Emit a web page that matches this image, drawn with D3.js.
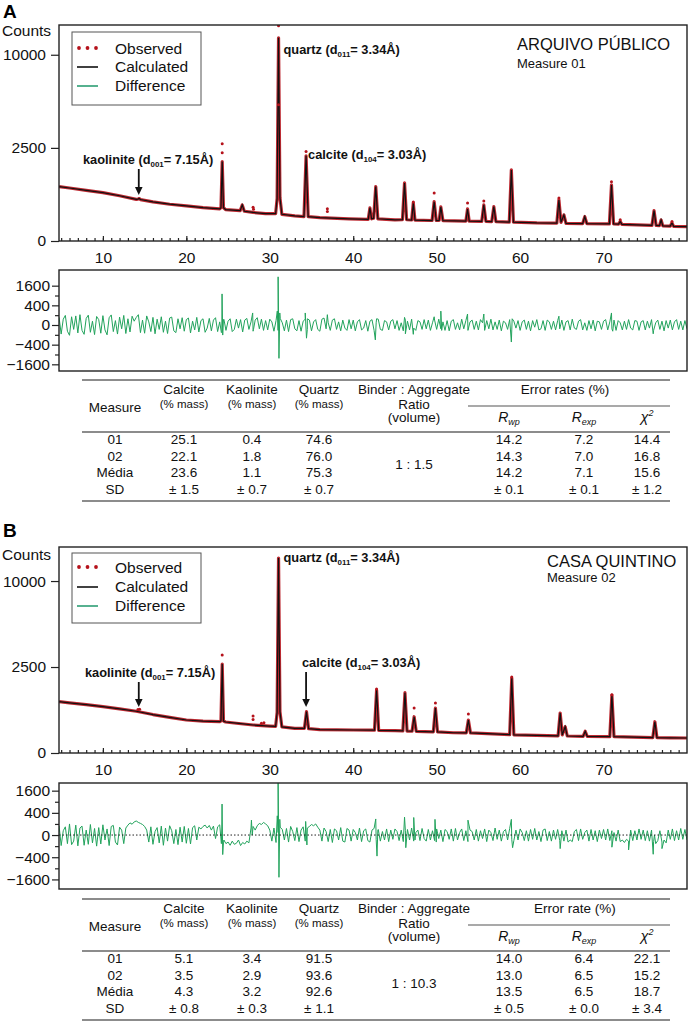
<!DOCTYPE html>
<html>
<head>
<meta charset="utf-8">
<script src="https://cdn.jsdelivr.net/npm/d3@7"></script>
<style>
  body { margin: 0; background: #fff; }
  svg { font-family: "Liberation Sans", Arial, sans-serif; }
</style>
</head>
<body>
<svg id="chart" width="692" height="1029"></svg>
<script>
// ---------------- data ----------------
// 2-theta range and axis ticks
const twoThetaDomain = [4.74, 80];
const xTicks = [10, 20, 30, 40, 50, 60, 70];
const countTicks = [0, 2500, 10000];
const diffTicks = [-1600, -400, 0, 400, 1600];
const diffMinorTicks = [-900, -100, 100, 900];
const legendLabels = ["Observed", "Calculated", "Difference"];

// peak annotations: [before sub, sub, after sub] and the peak they point at
const noteTexts = [["quartz (d", "011", "= 3.34Å)"], ["kaolinite (d", "001", "= 7.15Å)"], ["calcite (d", "104", "= 3.03Å)"]];
const notePeaks = [31.05, 14.3, 34.35];

const siteA = "ARQUIVO PÚBLICO", measureA = "Measure 01";
const siteB = "CASA QUINTINO", measureB = "Measure 02";

// calculated profile, [2theta, counts]
const calcA = [
  [4.75, 850], [6, 810], [8, 740], [10, 674], [12, 590], [14, 500], [14.2, 505], [14.35, 520], [14.5, 495], [16, 440],
  [18, 390], [20, 354], [22, 320], [24.0, 296], [24.15, 320], [24.3, 1817], [24.45, 318], [24.7, 285], [26.45, 265],
  [26.7, 375], [26.95, 255], [28, 235], [29.5, 215], [30.7, 215], [30.88, 520], [31.05, 11900], [31.22, 540],
  [31.45, 205], [33, 182], [34.1, 172], [34.35, 2088], [34.6, 172], [36, 158], [39.5, 142], [41.8, 136], [42.0, 315],
  [42.2, 142], [42.45, 150], [42.7, 852], [42.95, 142], [45, 128], [45.9, 130], [46.15, 972], [46.4, 130], [47.0, 127],
  [47.2, 417], [47.4, 126], [49.45, 121], [49.7, 445], [49.95, 121], [50.3, 122], [50.5, 334], [50.75, 120],
  [53.5, 114], [53.7, 296], [53.9, 113], [55.4, 110], [55.65, 375], [55.9, 111], [56.6, 109], [56.85, 340],
  [57.1, 108], [58.7, 103], [58.95, 1457], [59.2, 103], [62, 94], [64.4, 92], [64.65, 486], [64.9, 100],
  [65.25, 195], [65.5, 90], [67.5, 88], [67.75, 171], [68.0, 87], [70.7, 84], [70.95, 906], [71.2, 84], [71.8, 82],
  [72.0, 110], [72.2, 80], [75.8, 70], [76.05, 265], [76.3, 70], [76.7, 68], [76.9, 127], [77.1, 66], [78.0, 64],
  [78.2, 95], [78.4, 62], [80, 59]
];
const calcB = [
  [4.75, 890], [6, 850], [8, 790], [10, 725], [12, 660], [14, 590], [16, 500], [18, 430], [20, 368], [22, 345],
  [24.0, 331], [24.15, 350], [24.3, 2677], [24.45, 345], [24.7, 325], [26, 300], [28, 265], [30, 246], [30.7, 240],
  [30.88, 560], [31.05, 12860], [31.22, 580], [31.45, 230], [33, 205], [34.15, 205], [34.4, 577], [34.65, 200],
  [36, 186], [40, 179], [42.55, 176], [42.8, 1341], [43.05, 173], [45, 168], [45.95, 165], [46.2, 1229], [46.45, 163],
  [47.05, 160], [47.3, 445], [47.55, 158], [49.6, 151], [49.85, 684], [50.1, 150], [52, 139], [53.55, 138],
  [53.8, 368], [54.05, 137], [58.75, 113], [59.0, 1901], [59.25, 112], [62, 105], [64.55, 100], [64.8, 541],
  [65.05, 110], [65.4, 234], [65.65, 98], [67.55, 93], [67.8, 160], [68.05, 92], [70.75, 90], [71.0, 1137],
  [71.25, 90], [75.9, 80], [76.15, 331], [76.4, 80], [78, 78], [80, 76]
];

// observed points standing off the calculated line
const obsDotsA = [
  [24.3, 2720], [24.3, 2240], [31.05, 13350], [31.05, 5350], [34.35, 2305], [28.0, 330], [28.05, 290], [36.9, 300],
  [36.9, 250], [47.2, 440], [49.7, 666], [53.7, 417], [55.65, 462], [64.65, 534], [70.95, 1016], [72.0, 130], [78.2, 110]
];
const obsDotsB = [
  [24.3, 3246], [28.0, 463], [28.0, 380], [14.2, 640], [14.4, 650], [42.8, 1380], [47.3, 684], [49.85, 845],
  [53.8, 514], [59.0, 1950], [29.0, 300], [29.3, 310], [71.0, 1150]
];

// difference curve: values every 0.25 deg from 4.75 (one row = 5 deg)
const residStart = 4.75, residStep = 0.25;
const noiseA = [
  60, -85, 35, 95, -40, -110, 70, -20, 85, -65, 110, -30, -90, 45, 100, -55, 15, -95, 75, 30,
  -70, 90, -25, -100, 55, 105, -45, 20, -85, 65, -15, 95, -75, 40, -50, 80, 15, 60, 110, -60,
  25, -70, 85, 10, -45, 60, -80, 35, -20, 70, -55, 15, -75, 50, 65, -35, -60, 40, -15, 55,
  -40, 30, 50, -65, 15, -25, 60, -50, 20, 40, -55, -10, 45, -35, 25, 55, -45, 10, -40, 35,
  -30, 15, 40, -45, -20, 35, -10, 30, -50, 25, 45, -20, 10, -40, 25, 55, -15, 35, -30, 20,
  -25, 35, 10, -40, 20, -30, 45, 5, -35, 25, -45, 30, 40, -15, -35, 20, -40, 15, 35, -20,
  25, -35, 10, 30, -20, -40, 35, 50, -15, 5, -30, 25, 40, -20, 10, -35, 25, -10, -30, 30,
  -15, 25, -35, 10, 30, -25, -10, 20, -40, 15, 30, -30, 5, 35, -20, -30, 20, 10, -25, 15,
  30, -15, 20, -30, 5, -35, 25, 15, -25, 35, -10, -30, 20, 10, -20, 30, -15, 25, -30, 5,
  25, -20, 35, -15, 10, -30, 20, -35, 15, 30, -20, 5, -25, 35, -15, 20, -30, 10, 25, -20,
  15, -25, 30, 5, -30, 20, -15, 35, -25, 10, -20, 25, -35, 15, 5, -20, 30, -25, 15, -10,
  20, -30, 10, 25, -20, 15, -35, 20, -5, 30, -25, -15, 20, -30, 25, 10, -20, 15, -25, 20,
  -15, 25, -30, 10, 20, -25, 35, -10, -20, 15, 30, -25, 5, -30, 20, -15, 25, -35, 15, 10,
  -20, 15, 30, -25, 10, -15, 25, -30, 20, 5, -25, 15, -20, 30, -10, -25, 20, 15, -30, 10,
  20, -25, 15, -10, 30, -30, 5, 25, -20, 15, -35, 20, -10, 25, -25, 10, 30, -20, 15, -25,
  20, -15
];
const noiseB = [
  70, -90, 15, 55, -60, 100, -75, -30, 80, -95, 40, 65, -85, 20, -70, 90, -50, 35, -100, 45,
  -65, 85, -20, 30, -90, 60, 75, -40, -80, 50, 20, -60, 40, 80, 120, 95, 140, 160, 130, 110,
  90, 60, 20, -40, 55, -70, 10, 45, -50, 65, -85, 40, -30, 70, 15, -60, 25, -75, 50, -40,
  60, -55, 35, -65, 45, 70, -20, 50, 30, 60, 80, 40, 75, 20, 65, -10, 55, 85, 40, -20,
  -60, -40, -85, -30, -70, -55, -20, -90, -45, -65, -30, -50, 40, 60, 20, 70, 110, 90, 130, 100,
  70, 20, -30, 40, -45, 5, 50, 25, -20, 35, -40, 60, 10, -25, 45, -35, 20, 55, -30, 40,
  60, 90, 70, 100, 50, 20, -30, 40, 10, -35, 25, -45, 30, 15, -20, 45, -30, -40, 35, 20,
  -30, 25, 5, -20, 40, -35, 15, 30, -25, -40, 20, 35, -15, 25, -30, 10, -20, 30, -35, 20,
  -15, 30, 10, -25, 20, -35, 15, 25, -20, 40, -30, 5, 20, -25, 35, -10, -30, 25, -20, 15,
  -25, 30, -10, 20, -35, 25, 10, -15, 30, -30, 35, -20, 5, 30, -25, 15, -35, 20, 10, -20,
  25, -30, 15, -10, 30, -35, 20, 5, -25, 40, -15, 20, -30, 10, 25, -20, 35, -15, -25, 20,
  -20, 30, 5, -25, 15, -30, 25, -15, 35, -20, 10, -35, 20, 30, -25, 10, -30, 20, -15, 25,
  -25, 15, -30, 20, -40, -20, -35, 10, 25, -25, 30, -15, 5, 20, -30, 25, -20, 15, -35, 20,
  -10, 25, -20, 30, -25, 15, 5, -30, 20, -35, -20, -45, -15, -30, 20, -25, 15, -20, 30, -15,
  20, -25, 15, -30, 20, -35, -60, -25, 15, -40, -20, -50, 20, -15, 30, -25, 15, -20, 35, -15,
  25, -20
];
// sharp misfit spikes at the reflections, [2theta, difference]
const spikesA = [
  [24.2, -60], [24.28, 1000], [24.36, -105], [24.45, 30], [27.95, 150], [28.05, -20], [30.9, 200], [31.0, 2400],
  [31.1, -1150], [31.2, 150], [34.25, 150], [34.4, -180], [34.5, 40], [36.9, 110], [42.65, -230], [42.8, 40],
  [46.15, 60], [46.25, -80], [47.2, -90], [49.7, 70], [50.5, 200], [50.6, -30], [53.7, 125], [55.65, 125],
  [58.95, -300], [59.05, 40], [64.65, 80], [70.95, 150], [71.1, -40], [75.95, -80]
];
const spikesB = [
  [24.2, -60], [24.28, 780], [24.36, -310], [24.45, -50], [27.8, 180], [27.9, 0], [30.9, 300], [31.0, 2250],
  [31.1, -1450], [31.2, 200], [34.3, 150], [34.45, -80], [42.7, 210], [42.85, -360], [42.95, 20], [46.15, 260],
  [46.3, -130], [47.25, 250], [47.4, -20], [49.8, 200], [49.95, -40], [53.75, 180], [58.95, 200], [59.1, -130],
  [64.8, -150], [71.0, -120], [73.0, -180], [75.95, -300], [76.1, 0], [77.0, -150]
];

// refinement tables
const tableRows = ["01", "02", "Média", "SD"];
const calciteA = [25.1, 22.1, 23.6, 1.5], kaoliniteA = [0.4, 1.8, 1.1, 0.7], quartzA = [74.6, 76.0, 75.3, 0.7];
const rwpA = [14.2, 14.3, 14.2, 0.1], rexpA = [7.2, 7.0, 7.1, 0.1], chi2A = [14.4, 16.8, 15.6, 1.2];
const ratioA = "1 : 1.5", errorTitleA = "Error rates (%)";
const calciteB = [5.1, 3.5, 4.3, 0.8], kaoliniteB = [3.4, 2.9, 3.2, 0.3], quartzB = [91.5, 93.6, 92.6, 1.1];
const rwpB = [14.0, 13.0, 13.5, 0.5], rexpB = [6.4, 6.5, 6.5, 0.0], chi2B = [22.1, 15.2, 18.7, 3.4];
const ratioB = "1 : 10.3", errorTitleB = "Error rate (%)";

// ---------------- drawing ----------------
const svg = d3.select("#chart");
const obsColor = "#b5121b";
const diffColor = "#22a35c";
const plain = d3.format("d");

// text with a small subscript in the middle
function subText(g, x, y, parts, size, weight) {
  const t = g.append("text").attr("x", x).attr("y", y)
    .attr("font-size", size).attr("font-weight", weight).attr("fill", "#111");
  t.append("tspan").text(parts[0]);
  t.append("tspan").attr("dy", 3).attr("font-size", size * 0.62).text(parts[1]);
  t.append("tspan").attr("dy", -3).text(parts[2]);
  return t;
}

function styleAxis(a) {
  a.select(".domain").remove();
  a.selectAll("line").attr("stroke", "#222").attr("stroke-width", 1.2);
  a.selectAll("text").attr("font-size", 15.5).attr("fill", "#111")
    .attr("font-family", "Liberation Sans, Arial, sans-serif");
}

function drawPanel(p) {
  const g = svg.append("g");
  const x = d3.scaleLinear().domain(twoThetaDomain).range([p.left, p.right]);
  // both plots use a square-root intensity axis
  const y = d3.scaleSqrt().domain([0, p.countMax]).range([p.mainBottom, p.mainTop]);
  const r = d3.scaleSqrt().domain([p.diffMin, p.diffMax]).range([p.residBottom, p.residTop]);

  const defs = g.append("defs");
  defs.append("clipPath").attr("id", "clip-main-" + p.id).append("rect")
    .attr("x", p.left).attr("y", p.mainTop).attr("width", p.right - p.left).attr("height", p.mainBottom - p.mainTop);
  defs.append("clipPath").attr("id", "clip-res-" + p.id).append("rect")
    .attr("x", p.left).attr("y", p.residTop).attr("width", p.right - p.left).attr("height", p.residBottom - p.residTop);

  // panel letter
  g.append("text").attr("x", 3).attr("y", p.labelY).attr("font-size", 19).attr("font-weight", "bold").text(p.id);

  // ---- main pattern
  const line = d3.line().x(d => x(d[0])).y(d => y(d[1]));
  const mainG = g.append("g").attr("clip-path", `url(#clip-main-${p.id})`);
  mainG.append("path").datum(p.calc).attr("d", line)
    .attr("fill", "none").attr("stroke", obsColor).attr("stroke-width", 3.2)
    .attr("stroke-linejoin", "round").attr("opacity", 0.9);
  mainG.append("path").datum(p.calc).attr("d", line)
    .attr("fill", "none").attr("stroke", "#111").attr("stroke-width", 1.2);
  mainG.selectAll("circle").data(p.dots).join("circle")
    .attr("cx", d => x(d[0])).attr("cy", d => y(d[1])).attr("r", 1.5).attr("fill", obsColor);

  // axes of the main plot
  styleAxis(g.append("g").attr("transform", `translate(${p.left},0)`)
    .call(d3.axisLeft(y).tickValues(countTicks).tickFormat(plain).tickSize(8).tickPadding(5)));
  styleAxis(g.append("g").attr("transform", `translate(0,${p.mainBottom})`)
    .call(d3.axisBottom(x).tickValues(d3.range(5, 80)).tickSize(-3).tickFormat("")));
  styleAxis(g.append("g").attr("transform", `translate(0,${p.mainBottom})`)
    .call(d3.axisBottom(x).tickValues(xTicks).tickFormat(plain).tickSize(-5).tickPadding(11)));
  g.append("text").attr("x", 2).attr("y", p.countsY).attr("font-size", 15.5).attr("fill", "#111").text("Counts");

  g.append("rect").attr("x", p.left).attr("y", p.mainTop)
    .attr("width", p.right - p.left).attr("height", p.mainBottom - p.mainTop)
    .attr("fill", "none").attr("stroke", "#222").attr("stroke-width", 1.4);

  // site name
  g.append("text").attr("x", p.titleX).attr("y", p.titleY).attr("font-size", 16.5).attr("fill", "#111").text(p.site);
  g.append("text").attr("x", p.titleX).attr("y", p.subY).attr("font-size", 13).attr("fill", "#111").text(p.measure);

  // legend
  const lg = g.append("g");
  lg.append("rect").attr("x", 72).attr("y", p.legendTop).attr("width", 129).attr("height", p.legendH)
    .attr("fill", "#fff").attr("stroke", "#555").attr("stroke-width", 1);
  legendLabels.forEach((lab, i) => {
    const yy = p.legendRows[i];
    if (i === 0) {
      [79, 87.5, 96].forEach(cx => lg.append("circle").attr("cx", cx).attr("cy", yy - 6).attr("r", 1.9).attr("fill", obsColor));
    } else {
      lg.append("line").attr("x1", 77).attr("x2", 98).attr("y1", yy - 5).attr("y2", yy - 5)
        .attr("stroke", i === 1 ? "#111" : "#2c9e74").attr("stroke-width", 1.6);
    }
    lg.append("text").attr("x", 115).attr("y", yy).attr("font-size", 15.5).attr("fill", "#111").text(lab);
  });

  // peak notes
  const ng = g.append("g");
  noteTexts.forEach((parts, i) => {
    const n = p.notes[i];
    const tx = n.tx !== undefined ? n.tx : x(notePeaks[i]) + n.dx;
    subText(ng, tx, n.y, parts, 12.8, "bold");
    if (n.arrow) {
      const ax = x(notePeaks[i]);
      ng.append("line").attr("x1", ax).attr("x2", ax).attr("y1", n.arrow[0]).attr("y2", n.arrow[1] - 5)
        .attr("stroke", "#111").attr("stroke-width", 1.8);
      ng.append("path").attr("d", `M${ax - 3.8},${n.arrow[1] - 8}L${ax + 3.8},${n.arrow[1] - 8}L${ax},${n.arrow[1]}Z`)
        .attr("fill", "#111");
    }
  });

  // ---- difference plot
  const resid = p.noise.map((v, i) => [residStart + i * residStep, v])
    .concat(p.spikes).sort((a, b) => a[0] - b[0]);
  const rline = d3.line().x(d => x(d[0])).y(d => r(d[1]));
  const rg = g.append("g").attr("clip-path", `url(#clip-res-${p.id})`);
  rg.append("path").datum(resid).attr("d", rline)
    .attr("fill", "none").attr("stroke", diffColor).attr("stroke-width", 1).attr("stroke-linejoin", "round");
  if (p.zeroLine) {
    rg.append("line").attr("x1", p.left).attr("x2", p.right).attr("y1", r(0)).attr("y2", r(0))
      .attr("stroke", "#222").attr("stroke-width", 1).attr("stroke-dasharray", "1.5,2");
  }
  styleAxis(g.append("g").attr("transform", `translate(${p.left},0)`)
    .call(d3.axisLeft(r).tickValues(diffTicks).tickFormat(plain).tickSize(7).tickPadding(2)));
  styleAxis(g.append("g").attr("transform", `translate(${p.left},0)`)
    .call(d3.axisLeft(r).tickValues(diffMinorTicks).tickSize(4).tickFormat("")));
  g.append("rect").attr("x", p.left).attr("y", p.residTop)
    .attr("width", p.right - p.left).attr("height", p.residBottom - p.residTop)
    .attr("fill", "none").attr("stroke", "#222").attr("stroke-width", 1.4);
}

function drawTable(t) {
  const g = svg.append("g").attr("fill", "#111").attr("font-size", 13.5);
  const c = { measure: 115, calcite: 184, kaolinite: 252, quartz: 319, binder: 414, rwp: 509, rexp: 584, chi: 647 };
  const rule = (x1, x2, yy, w) => g.append("line").attr("x1", x1).attr("x2", x2).attr("y1", yy).attr("y2", yy)
    .attr("stroke", "#8c8c8c").attr("stroke-width", w);
  rule(82, 670, t.top, 2);
  rule(468, 670, t.sub, 1.5);
  rule(82, 670, t.head, 2);
  rule(82, 670, t.bottom, 2);

  const txt = (x, yy, s, size) => g.append("text").attr("x", x).attr("y", yy).attr("text-anchor", "middle")
    .attr("font-size", size || 13.5).text(s);
  txt(c.measure, t.measureY, "Measure");
  [["calcite", "Calcite"], ["kaolinite", "Kaolinite"], ["quartz", "Quartz"]].forEach(([k, s]) => {
    txt(c[k], t.l1, s);
    txt(c[k], t.l2, "(% mass)", 11.5);
  });
  txt(c.binder, t.l1, "Binder : Aggregate");
  txt(c.binder, t.l2 + 1, "Ratio");
  txt(c.binder, t.l3, "(volume)");
  txt(t.errX, t.l1, t.errTitle);

  const rw = txt(c.rwp, t.l3, "").attr("font-style", "italic");
  rw.append("tspan").attr("font-size", 14).text("R");
  rw.append("tspan").attr("font-size", 9).attr("dy", 3).text("wp");
  const re = txt(c.rexp, t.l3, "").attr("font-style", "italic");
  re.append("tspan").attr("font-size", 14).text("R");
  re.append("tspan").attr("font-size", 9).attr("dy", 3).text("exp");
  const ch = txt(c.chi, t.l3, "").attr("font-style", "italic");
  ch.append("tspan").attr("font-size", 14.5).text("χ");
  ch.append("tspan").attr("font-size", 9).attr("dy", -6).text("2");

  const cols = [["calcite", t.calcite], ["kaolinite", t.kaolinite], ["quartz", t.quartz],
                ["rwp", t.rwp], ["rexp", t.rexp], ["chi", t.chi2]];
  tableRows.forEach((m, i) => {
    const yy = t.rows[i];
    txt(c.measure, yy, m);
    cols.forEach(([k, vals]) => {
      const v = vals[i].toFixed(1);
      txt(c[k], yy, i === 3 ? "± " + v : v);
    });
  });
  txt(c.binder, t.ratioY, t.ratio);
}

drawPanel({
  id: "A", labelY: 18, left: 59, right: 687,
  mainTop: 25, mainBottom: 241, residTop: 270, residBottom: 371,
  countMax: 13450, diffMin: -2190, diffMax: 3130, countsY: 36,
  titleX: 517, titleY: 50, subY: 68, site: siteA, measure: measureA,
  legendTop: 32, legendH: 73, legendRows: [54, 72, 91],
  calc: calcA, dots: obsDotsA, noise: noiseA, spikes: spikesA, zeroLine: false,
  notes: [{ dx: 5, y: 54 }, { tx: 83, y: 164, arrow: [169, 195] }, { dx: 2, y: 159 }]
});
drawPanel({
  id: "B", labelY: 537, left: 59, right: 687,
  mainTop: 547, mainBottom: 753, residTop: 783, residBottom: 889,
  countMax: 14350, diffMin: -2365, diffMax: 2200, countsY: 560,
  titleX: 547, titleY: 567, subY: 582, site: siteB, measure: measureB,
  legendTop: 553, legendH: 70, legendRows: [573, 592, 611],
  calc: calcB, dots: obsDotsB, noise: noiseB, spikes: spikesB, zeroLine: true,
  notes: [{ dx: 5, y: 562 }, { tx: 85, y: 677, arrow: [682, 707] }, { tx: 302, y: 667, arrow: [672, 707] }]
});

drawTable({
  top: 380, l1: 394, l2: 408, l3: 422, measureY: 412, sub: 406, head: 432, bottom: 501,
  rows: [444, 461, 477, 494], ratioY: 469, errX: 565, errTitle: errorTitleA, ratio: ratioA,
  calcite: calciteA, kaolinite: kaoliniteA, quartz: quartzA, rwp: rwpA, rexp: rexpA, chi2: chi2A
});
drawTable({
  top: 899, l1: 913, l2: 927, l3: 941, measureY: 931, sub: 925, head: 951, bottom: 1020,
  rows: [963, 980, 996, 1013], ratioY: 988, errX: 575, errTitle: errorTitleB, ratio: ratioB,
  calcite: calciteB, kaolinite: kaoliniteB, quartz: quartzB, rwp: rwpB, rexp: rexpB, chi2: chi2B
});
</script>
</body>
</html>
